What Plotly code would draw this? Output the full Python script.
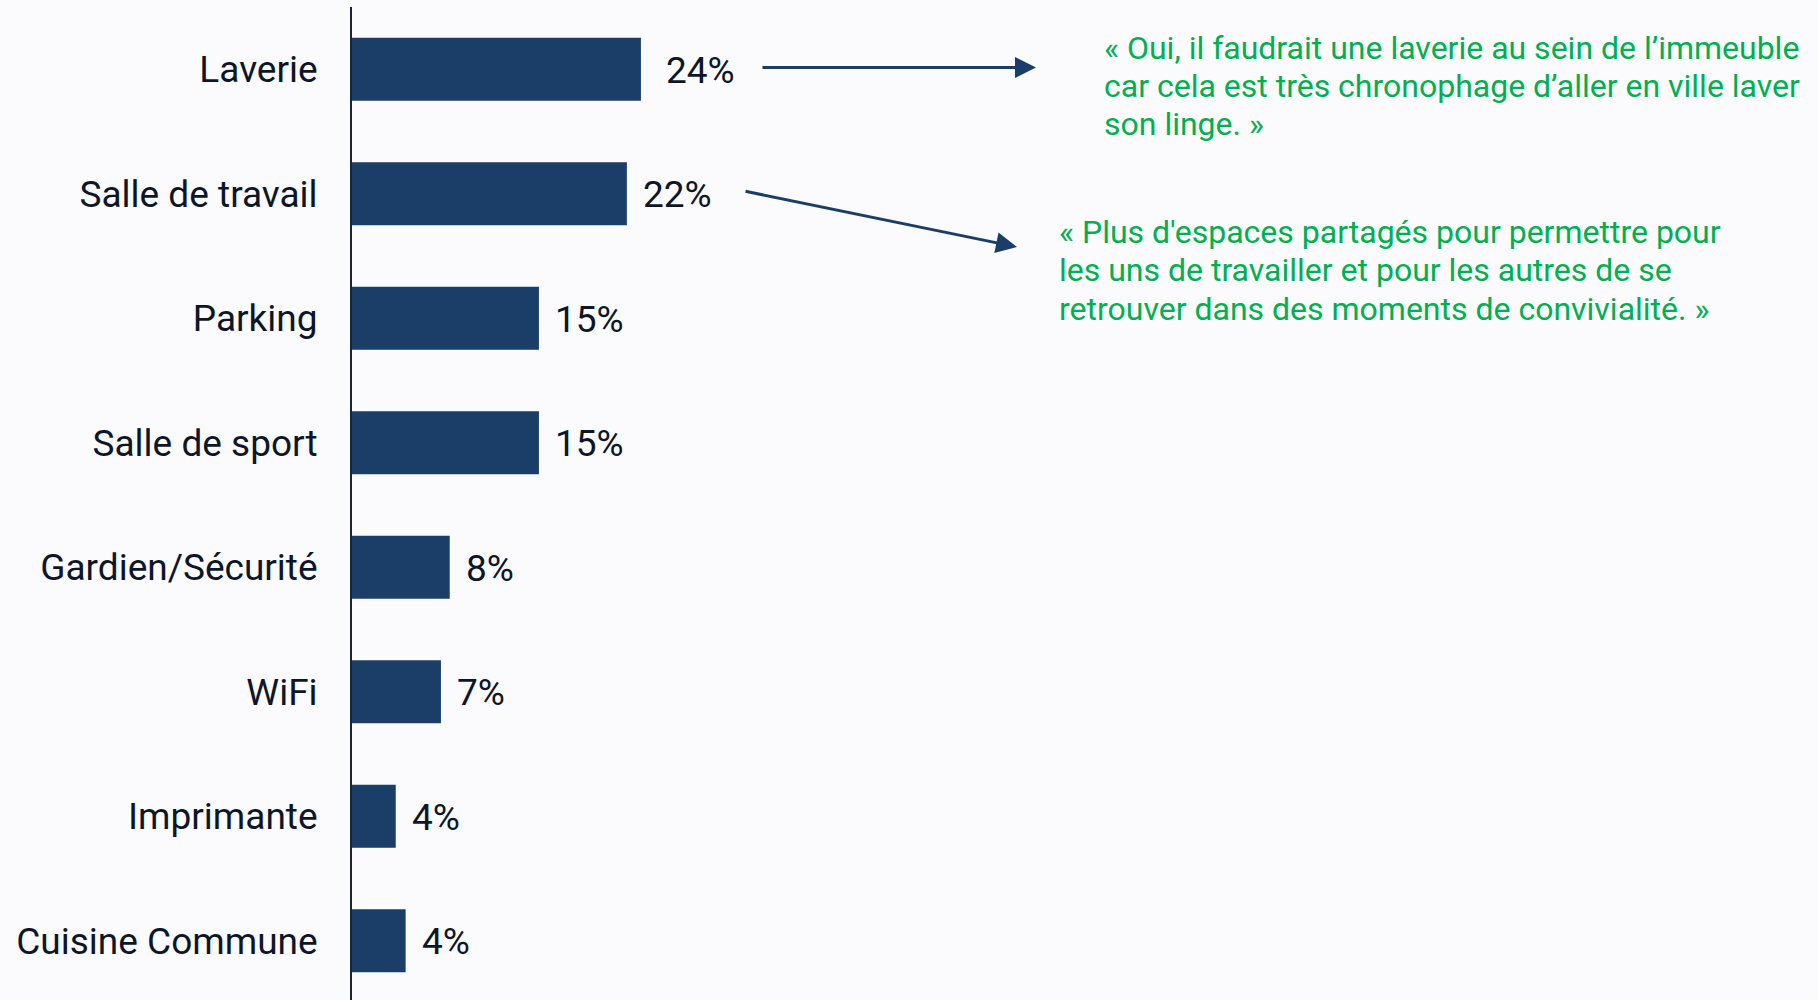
import plotly.graph_objects as go

categories = ["Laverie", "Salle de travail", "Parking", "Salle de sport",
              "Gardien/Sécurité", "WiFi", "Imprimante", "Cuisine Commune"]
values = [23.65, 22.5, 15.3, 15.3, 8.0, 7.28, 3.58, 4.39]
value_labels = ["24%", "22%", "15%", "15%", "8%", "7%", "4%", "4%"]

quote_laverie = ["« Oui, il faudrait une laverie au sein de l’immeuble",
                 "car cela est très chronophage d’aller en ville laver",
                 "son linge. »"]
quote_travail = ["« Plus d'espaces partagés pour permettre pour",
                 "les uns de travailler et pour les autres de se",
                 "retrouver dans des moments de convivialité. »"]

W, H = 1818, 1000
ML, MT, MB, MR = 352, 7, 0, 0
PW, PH = W - ML - MR, H - MT - MB

BAR = "#1b3e69"
TXT = "#0d1629"
GREEN = "#00b050"
BG = "#fbfbfd"
FONT = "Roboto"


def px(x):
    return (x - ML) / PW


def py(y):
    return (H - MB - y) / PH


fig = go.Figure()
fig.add_trace(go.Bar(
    x=values, y=list(range(len(categories))), orientation="h",
    marker=dict(color=BAR, line=dict(width=0)), width=0.506,
    hoverinfo="skip",
))

annotations = []
for i, (v, lab) in enumerate(zip(values, value_labels)):
    shift = 23 if i == 0 else 14
    annotations.append(dict(
        x=v, y=i, xref="x", yref="y", text=lab, showarrow=False,
        xanchor="left", yanchor="middle", xshift=shift, yshift=-1,
        font=dict(family=FONT, size=37, color=TXT),
    ))

annotations += [
    dict(x=px(1036), y=py(67.5), xref="paper", yref="paper", text="",
         showarrow=True, ax=-275, ay=0, arrowhead=2, arrowsize=1.4,
         arrowwidth=3, arrowcolor=BAR, standoff=0),
    dict(x=px(1017), y=py(247), xref="paper", yref="paper", text="",
         showarrow=True, ax=-273, ay=-56, arrowhead=2, arrowsize=1.4,
         arrowwidth=3, arrowcolor=BAR, standoff=0),
]

LINE_GAP = 38.3
for x0, yc, lines in [(1105, 47.5, quote_laverie), (1060, 232, quote_travail)]:
    for k, line in enumerate(lines):
        annotations.append(dict(
            x=px(x0 - 3), y=py(yc + k * LINE_GAP), xref="paper", yref="paper",
            text=line, showarrow=False, xanchor="left", yanchor="middle",
            align="left", font=dict(family=FONT, size=32, color=GREEN)))

fig.update_layout(
    width=W, height=H,
    margin=dict(l=ML, r=MR, t=MT, b=MB, pad=0),
    paper_bgcolor=BG, plot_bgcolor=BG,
    showlegend=False,
    annotations=annotations,
    xaxis=dict(range=[0, 120], visible=False, fixedrange=True),
    yaxis=dict(
        range=[7.476, -0.5], autorange=False,
        tickmode="array", tickvals=list(range(len(categories))),
        ticktext=categories,
        tickfont=dict(family=FONT, size=37, color=TXT),
        ticks="outside", ticklen=25, tickcolor="rgba(0,0,0,0)",
        showline=True, linecolor="#1c2233", linewidth=2,
        showgrid=False, zeroline=False, fixedrange=True,
    ),
)

fig.write_html("out.html",
               config={"displayModeBar": False},
               post_script="document.body.style.margin='0';"
                           "document.body.style.background='%s';" % BG)
